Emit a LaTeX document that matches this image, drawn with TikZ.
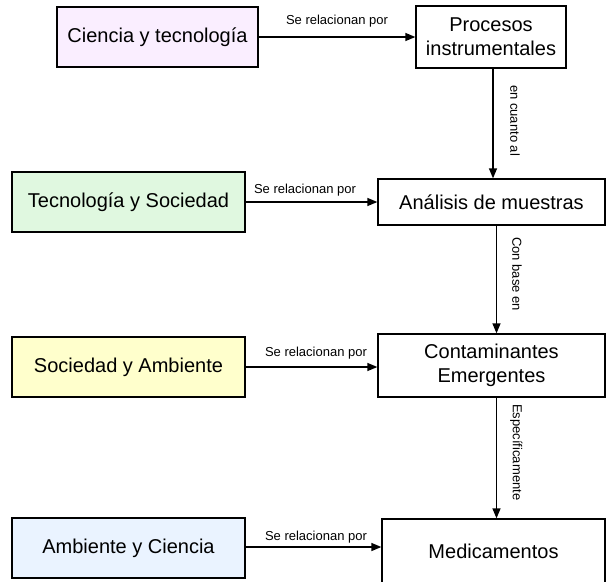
\documentclass[tikz,border=0pt]{standalone}
\usepackage{fontspec}
\setmainfont{Liberation Sans}
\usetikzlibrary{arrows.meta}
\definecolor{cpurple}{HTML}{FAEEFF}
\definecolor{cgreen}{HTML}{E0F8E0}
\definecolor{cyellow}{HTML}{FFFFCC}
\definecolor{cblue}{HTML}{EAF3FF}
\tikzset{
  box/.style={draw=black, line width=1.3pt, inner sep=2pt, align=center, font=\fontsize{20}{24}\selectfont},
  conn/.style={draw=black, line width=1.3pt, -{Triangle[length=10pt,width=8pt]}},
  lbl/.style={font=\fontsize{13}{15}\selectfont, inner sep=1pt},
}
\begin{document}
\begin{tikzpicture}[x=1pt,y=-1pt]
\useasboundingbox (0,0) rectangle (607,581);
% left boxes
\node[box, fill=cpurple, minimum width=201pt, minimum height=60pt] (cyt) at (157.5,37) {Ciencia y tecnología};
\node[box, fill=cgreen, minimum width=233pt, minimum height=60pt] (tys) at (128.5,202) {Tecnología y Sociedad};
\node[box, fill=cyellow, minimum width=233pt, minimum height=60pt] (sya) at (128.5,367) {Sociedad y Ambiente};
\node[box, fill=cblue, minimum width=233pt, minimum height=60pt] (ayc) at (128.5,548) {Ambiente y Ciencia};
% right boxes
\node[box, fill=white, minimum width=150pt, minimum height=62pt] (pi) at (491,37) {Procesos\\instrumentales};
\node[box, fill=white, minimum width=227pt, minimum height=46pt] (am) at (491.5,202) {Análisis de muestras};
\node[box, fill=white, minimum width=227pt, minimum height=63pt] (ce) at (491.5,365.5) {Contaminantes\\Emergentes};
\node[box, fill=white, minimum width=223pt, minimum height=64pt] (med) at (493.5,551) {Medicamentos};
% horizontal connectors
\draw[conn] (cyt.east) -- (cyt.east -| pi.west);
\draw[conn] (tys.east) -- (tys.east -| am.west);
\draw[conn] (sya.east) -- (sya.east -| ce.west);
\draw[conn] ([yshift=1pt]ayc.east) -- ([yshift=1pt]ayc.east -| med.west);
\node[lbl] (l1) at (337,21) {Se relacionan por};
\node[lbl] (l2) at (305,190) {Se relacionan por};
\node[lbl] (l3) at (316,353) {Se relacionan por};
\node[lbl] (l4) at (316,537) {Se relacionan por};
% vertical connectors
\draw[conn] ([xshift=2pt]pi.south) -- ([xshift=2pt]pi.south |- am.north);
\draw[conn] ([xshift=5pt]am.south) -- ([xshift=5pt]am.south |- ce.north);
\draw[conn] ([xshift=5pt]ce.south) -- ([xshift=5pt]ce.south |- med.north);
\node[lbl, rotate=-90, anchor=south west] (v1) at (509,84) {en cuanto al};
\node[lbl, rotate=-90, anchor=south west] (v2) at (511,236) {Con base en};
\node[lbl, rotate=-90, anchor=south west] (v3) at (509,403) {Específicamente};
\end{tikzpicture}
\end{document}
